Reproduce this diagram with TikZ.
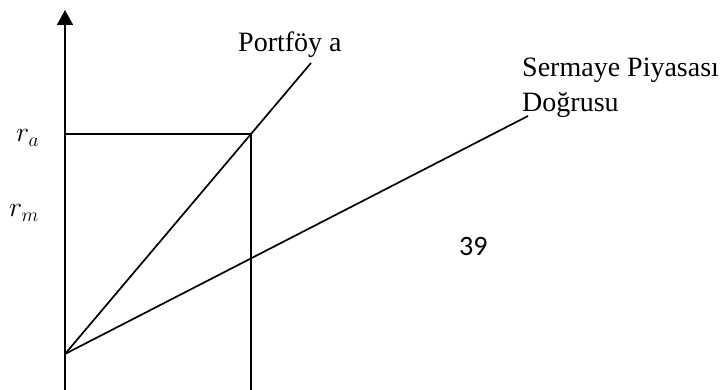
\documentclass[tikz,border=0pt]{standalone}
\usepackage{fix-cm}
\usepackage{fontspec}
\setmainfont{Liberation Serif}
\newfontfamily\pagenumfont{Carlito}
\usetikzlibrary{arrows.meta}
\begin{document}
\begin{tikzpicture}[x=1pt,y=1pt,
  ln/.style={line width=1.7pt,line cap=butt},
  lbl/.style={anchor=base west,inner sep=0pt,font=\fontsize{28}{34}\selectfont}]
\useasboundingbox (0,0) rectangle (727,390);
% key points
\coordinate (base) at (65,0);
\coordinate (top) at (65,380);
\coordinate (O) at (65,36);
\coordinate (A) at (251,256);
\coordinate (Ab) at (251,0);
\coordinate (Ay) at (65,256);
\coordinate (Pend) at (311,327);
\coordinate (Mend) at (528,274);
% axis
\draw[ln,-{Triangle[width=16pt,length=15pt]}] (base) -- (top);
% box lines
\draw[ln] (Ay) -- (A) -- (Ab);
% portfolio a line
\draw[ln] (O) -- (Pend);
% capital market line
\draw[ln] (O) -- (Mend);
% labels
\node[lbl] (pa) at (238,338) {Portföy a};
\node[lbl] (sp1) at (522,313) {Sermaye Piyasası};
\node[lbl] (sp2) at (522,278) {Doğrusu};
\node[lbl] (ra) at (16,248) {$r_a$};
\node[lbl] (rm) at (9,173) {$r_m$};
\node[lbl,font=\pagenumfont\fontsize{28}{34}\selectfont] (pg) at (459,134) {39};
\end{tikzpicture}
\end{document}
